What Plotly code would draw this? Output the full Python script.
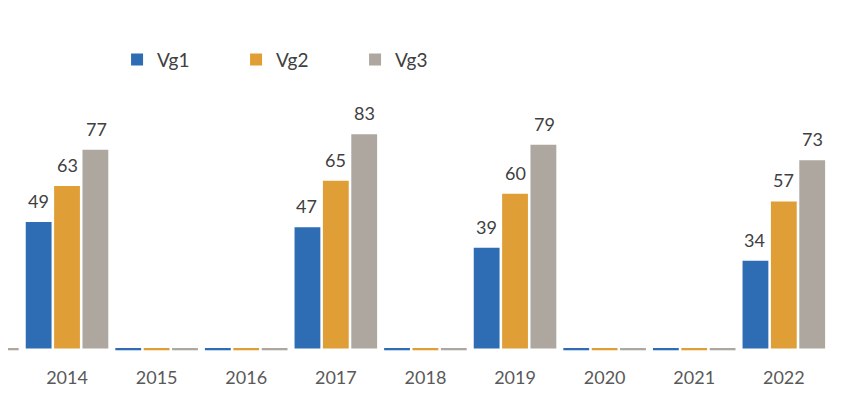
import plotly.graph_objects as go

years = ["2013", "2014", "2015", "2016", "2017", "2018", "2019", "2020", "2021", "2022"]
vg1 = [-0.7, 49, -0.7, -0.7, 47, -0.7, 39, -0.7, -0.7, 34]
vg2 = [-0.7, 63, -0.7, -0.7, 65, -0.7, 60, -0.7, -0.7, 57]
vg3 = [-0.7, 77, -0.7, -0.7, 83, -0.7, 79, -0.7, -0.7, 73]
names = ["Vg1", "Vg2", "Vg3"]
colors = ["#2E6DB4", "#E09E36", "#ADA7A0"]
label_xshift = [-29, 0, 29]

fig = go.Figure()
for name, vals, col in zip(names, [vg1, vg2, vg3], colors):
    fig.add_trace(go.Bar(
        x=years, y=vals, name=name,
        marker=dict(color=col, line=dict(width=0)),
        cliponaxis=False,
    ))

for vals, dx in zip([vg1, vg2, vg3], label_xshift):
    for i, v in enumerate(vals):
        if v > 0:
            fig.add_annotation(x=i, y=v, xref="x", yref="y", text=str(v), showarrow=False,
                               xshift=dx, yshift=8, yanchor="bottom",
                               font=dict(family="Lato", size=18, color="#404040"))

fig.update_layout(
    width=839, height=391,
    margin=dict(l=0, r=0, t=0, b=34),
    paper_bgcolor="white", plot_bgcolor="white",
    barmode="group", bargap=0.05, bargroupgap=0.09,
    showlegend=True,
    legend=dict(orientation="h", x=0.13, xanchor="left", y=0.855, yanchor="middle",
                font=dict(family="Lato", size=19, color="#404040"),
                entrywidth=74, entrywidthmode="pixels", itemwidth=30,
                bgcolor="rgba(0,0,0,0)"),
    xaxis=dict(type="category", range=[0.3413, 9.705], showgrid=False, showline=False,
               zeroline=False, ticks="", tickfont=dict(family="Lato", size=18, color="#595959"),
               tickvals=years[1:], ticktext=years[1:]),
    yaxis=dict(range=[-6.40, 131.98], visible=False, showgrid=False, zeroline=False),
)
fig.write_html("out.html")
